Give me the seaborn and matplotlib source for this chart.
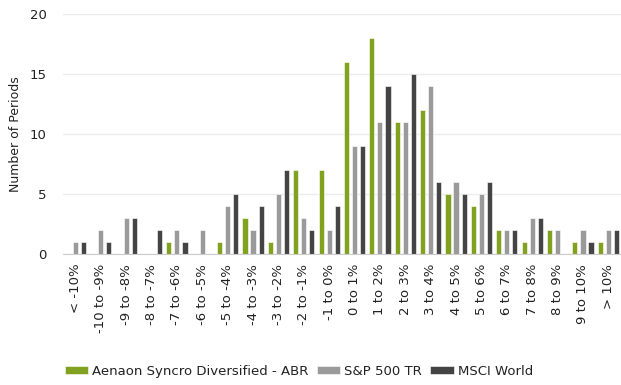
import matplotlib
matplotlib.use("Agg")
from matplotlib import pyplot as plt
import seaborn as sns
import pandas as pd

categories = ["< -10%", "-10 to -9%", "-9 to -8%", "-8 to -7%", "-7 to -6%", "-6 to -5%",
              "-5 to -4%", "-4 to -3%", "-3 to -2%", "-2 to -1%", "-1 to 0%", "0 to 1%",
              "1 to 2%", "2 to 3%", "3 to 4%", "4 to 5%", "5 to 6%", "6 to 7%",
              "7 to 8%", "8 to 9%", "9 to 10%", "> 10%"]
fund = [0, 0, 0, 0, 1, 0, 1, 3, 1, 7, 7, 16, 18, 11, 12, 5, 4, 2, 1, 2, 1, 1]
sp500 = [1, 2, 3, 0, 2, 2, 4, 2, 5, 3, 2, 9, 11, 11, 14, 6, 5, 2, 3, 2, 2, 2]
msci = [1, 1, 3, 2, 1, 0, 5, 4, 7, 2, 4, 9, 14, 15, 6, 5, 6, 2, 3, 0, 1, 2]
series = ["Aenaon Syncro Diversified - ABR", "S&P 500 TR", "MSCI World"]
colors = ["#8cb80a", "#9a9a9a", "#444444"]

df = pd.DataFrame({
    "Range": categories * 3,
    "Count": fund + sp500 + msci,
    "Series": [series[0]] * len(categories) + [series[1]] * len(categories) + [series[2]] * len(categories),
})

sns.set_style("white")
plt.rcParams["font.family"] = ["DejaVu Sans"]

fig = plt.figure(figsize=(6.21, 3.85), dpi=100)
ax = fig.add_axes([0.101, 0.34, 0.899, 0.624])

sns.barplot(data=df, x="Range", y="Count", hue="Series", order=categories,
            hue_order=series, palette=colors, width=0.95, gap=0.36,
            edgecolor="white", linewidth=0.4, ax=ax)

ax.set_ylim(0, 20)
ax.set_xlim(-0.5, len(categories) - 0.5)
ax.set_yticks([0, 5, 10, 15, 20])
ax.yaxis.grid(True, color="#ececec", linewidth=1)
ax.set_axisbelow(True)
for s in ["top", "right", "left"]:
    ax.spines[s].set_visible(False)
ax.spines["bottom"].set_color("#cccccc")
ax.tick_params(axis="y", length=0, pad=11.5, labelsize=9.5, colors="#222222")
ax.tick_params(axis="x", length=4, color="#cccccc", labelsize=9.5, colors="#222222",
               rotation=90, pad=3)
ax.set_xlabel("")
ax.set_ylabel("Number of Periods", fontsize=9, color="#222222")
ax.yaxis.set_label_coords(-0.073, 0.5)

ax.get_legend().remove()
handles, labels = ax.get_legend_handles_labels()
fig.legend(handles, labels, loc="lower left", bbox_to_anchor=(0.085, -0.012), ncol=3,
           frameon=False, fontsize=9.5, handlelength=1.8, handleheight=0.45,
           handletextpad=0.3, columnspacing=0.6, labelcolor="#222222")

fig.savefig("out.png", dpi=100)
